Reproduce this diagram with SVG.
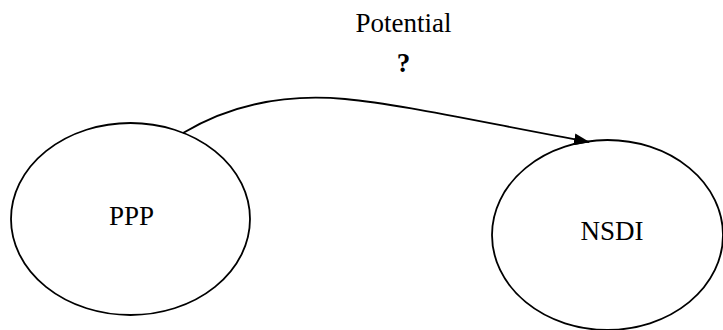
<svg xmlns="http://www.w3.org/2000/svg" width="723" height="330" viewBox="0 0 723 330">
<style>
.node{fill:#fff;stroke:#000;stroke-width:1.8}
.lbl{font-family:"Liberation Serif","Times New Roman",serif;font-size:27px;fill:#000;text-anchor:middle}
.edge{fill:none;stroke:#000;stroke-width:1.8}
</style>
<defs>
<marker id="arr" markerWidth="16" markerHeight="12" refX="15" refY="6" orient="auto" markerUnits="userSpaceOnUse">
<path d="M0,0 L16,6 L0,12 Z" fill="#000"/>
</marker>
</defs>
<rect width="723" height="330" fill="#fff"/>
<g id="labels">
<text class="lbl" x="403.5" y="32">Potential</text>
<text class="lbl" x="403.5" y="72" font-weight="bold">?</text>
</g>
<g id="ppp">
<ellipse class="node" cx="130.5" cy="219" rx="119.5" ry="96"/>
<text class="lbl" x="131.5" y="225">PPP</text>
</g>
<g id="nsdi">
<ellipse class="node" cx="607.5" cy="235" rx="115.5" ry="95"/>
<text class="lbl" x="612" y="240">NSDI</text>
</g>
<g id="connectors">
<path class="edge" d="M183,133 C235,102 290,94 345,99 C400,104 480,122 589,142" marker-end="url(#arr)"/>
</g>
</svg>
